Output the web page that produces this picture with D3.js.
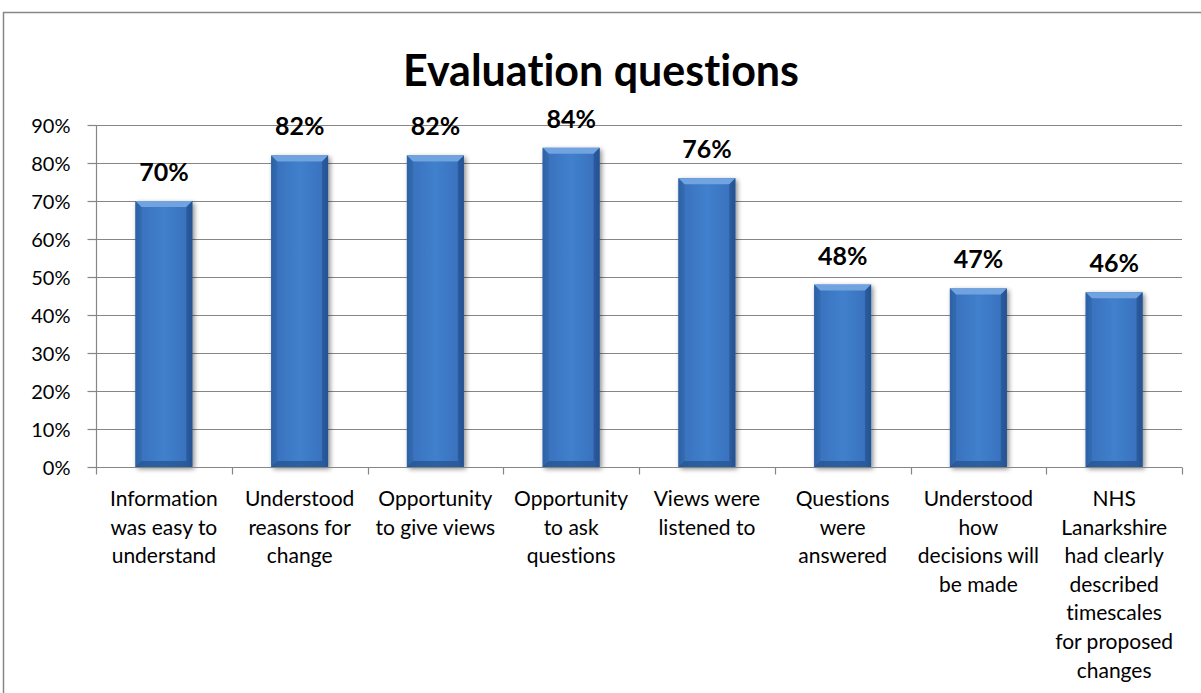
<!DOCTYPE html>
<html><head><meta charset="utf-8">
<script src="https://cdn.jsdelivr.net/npm/d3@7"></script>
<style>body{margin:0;background:#fff}svg{display:block}text{font-variant-ligatures:none;font-feature-settings:"liga" 0,"clig" 0}</style>
</head><body>
<svg id="c" width="1201" height="693"></svg>
<script>
const categories = [
  ["Information","was easy to","understand"],
  ["Understood","reasons for","change"],
  ["Opportunity","to give views"],
  ["Opportunity","to ask","questions"],
  ["Views were","listened to"],
  ["Questions","were","answered"],
  ["Understood","how","decisions will","be made"],
  ["NHS","Lanarkshire","had clearly","described","timescales","for proposed","changes"]
];
const values = [70, 82, 82, 84, 76, 48, 47, 46];
const yTicks = [0,10,20,30,40,50,60,70,80,90];
const title = "Evaluation questions";

const FONT = "Lato, 'Open Sans', sans-serif";
const svg = d3.select("#c");
const pL = 96, pR = 1182, pT = 125, pB = 467;

// outer border
svg.append("rect").attr("x",3.5).attr("y",12.5).attr("width",1250).attr("height",720)
  .attr("fill","#fff").attr("stroke","#868686").attr("stroke-width",1.5);

const x = d3.scaleBand().domain(d3.range(categories.length)).range([pL,pR]).paddingInner(0.58).paddingOuter(0.29);
const xb = d3.scaleBand().domain(d3.range(categories.length)).range([pL,pR]);
const y = d3.scaleLinear().domain([0,90]).range([pB,pT]);

const defs = svg.append("defs");
const g1 = defs.append("linearGradient").attr("id","bh").attr("x1","0").attr("x2","1").attr("y1","0").attr("y2","0");
[[0,"#2c5d9e"],[0.12,"#3a73bf"],[0.5,"#4080cc"],[0.88,"#3a73bf"],[1,"#29589a"]].forEach(([o,c])=>g1.append("stop").attr("offset",o).attr("stop-color",c));
const f = defs.append("filter").attr("id","sh").attr("x","-20%").attr("y","-5%").attr("width","150%").attr("height","115%");
f.append("feGaussianBlur").attr("in","SourceAlpha").attr("stdDeviation",2.5).attr("result","b");
f.append("feOffset").attr("in","b").attr("dx",2).attr("dy",2).attr("result","o");
f.append("feComponentTransfer").attr("in","o").attr("result","o2").append("feFuncA").attr("type","linear").attr("slope",0.45);
const m = f.append("feMerge"); m.append("feMergeNode").attr("in","o2"); m.append("feMergeNode").attr("in","SourceGraphic");

// gridlines
svg.append("g").selectAll("line").data(yTicks.filter(d=>d>0)).join("line")
  .attr("x1",pL).attr("x2",pR).attr("y1",d=>Math.round(y(d))+0.5).attr("y2",d=>Math.round(y(d))+0.5)
  .attr("stroke","#868686").attr("stroke-width",1.2);

// y axis
const ya = svg.append("g").attr("transform",`translate(${pL+0.5},0)`)
  .call(d3.axisLeft(y).tickValues(yTicks).tickSize(9).tickFormat(d=>d+"%"));
ya.select(".domain").attr("stroke","#868686").attr("stroke-width",1.2).attr("d",`M0,${pT}V${pB}`);
ya.selectAll(".tick line").attr("stroke","#868686").attr("stroke-width",1.2);
ya.selectAll(".tick text").attr("font-family",FONT).attr("font-size",20).attr("fill","#000").attr("x",-26).attr("dy","0.36em");

// bars
const bars = svg.append("g").selectAll("g").data(values).join("g").attr("filter","url(#sh)");
bars.each(function(v,i){
  const g = d3.select(this);
  const bx = x(i), bw = x.bandwidth(), by = y(v), bh = y(0)-y(v);
  const e = 6;
  g.append("rect").attr("x",bx).attr("y",by).attr("width",bw).attr("height",bh).attr("fill","url(#bh)");
  g.append("path").attr("d",`M${bx},${by}H${bx+bw}L${bx+bw-e},${by+e}H${bx+e}Z`).attr("fill","#6fa3e0");
  g.append("path").attr("d",`M${bx},${by}L${bx+e},${by+e}V${by+bh-e}L${bx},${by+bh}Z`).attr("fill","#2f65aa").attr("opacity",0.6);
  g.append("path").attr("d",`M${bx+bw},${by}L${bx+bw-e},${by+e}V${by+bh-e}L${bx+bw},${by+bh}Z`).attr("fill","#234f8c").attr("opacity",0.6);
  g.append("path").attr("d",`M${bx},${by+bh}H${bx+bw}L${bx+bw-e},${by+bh-e}H${bx+e}Z`).attr("fill","#25528f").attr("opacity",0.7);
});

// x axis
const xa = svg.append("g").attr("transform",`translate(0,${pB+0.5})`);
xa.append("line").attr("x1",pL).attr("x2",pR).attr("stroke","#868686").attr("stroke-width",1.2);
xa.selectAll("line.t").data(d3.range(categories.length+1)).join("line").attr("class","t")
  .attr("x1",i=>Math.round(pL+i*xb.step())+0.5).attr("x2",i=>Math.round(pL+i*xb.step())+0.5)
  .attr("y1",0).attr("y2",7).attr("stroke","#868686").attr("stroke-width",1.2);
const lbl = svg.append("g").selectAll("text").data(categories).join("text")
  .attr("font-family",FONT).attr("font-size",21).attr("fill","#000").attr("text-anchor","middle")
  .attr("transform",(d,i)=>`translate(${xb(i)+xb.bandwidth()/2},506)`);
lbl.selectAll("tspan").data(d=>d).join("tspan").attr("x",0).attr("y",(d,j)=>j*28.6).text(d=>d);

// data labels
svg.append("g").selectAll("text").data(values).join("text")
  .attr("x",(d,i)=>x(i)+x.bandwidth()/2).attr("y",d=>y(d)-20)
  .attr("text-anchor","middle").attr("font-family",FONT).attr("font-weight","bold").attr("font-size",25)
  .text(d=>d+"%");

// title
svg.append("text").attr("x",601).attr("y",86).attr("text-anchor","middle")
  .attr("font-family",FONT).attr("font-weight","bold").attr("font-size",43).text(title);
</script>
</body></html>
